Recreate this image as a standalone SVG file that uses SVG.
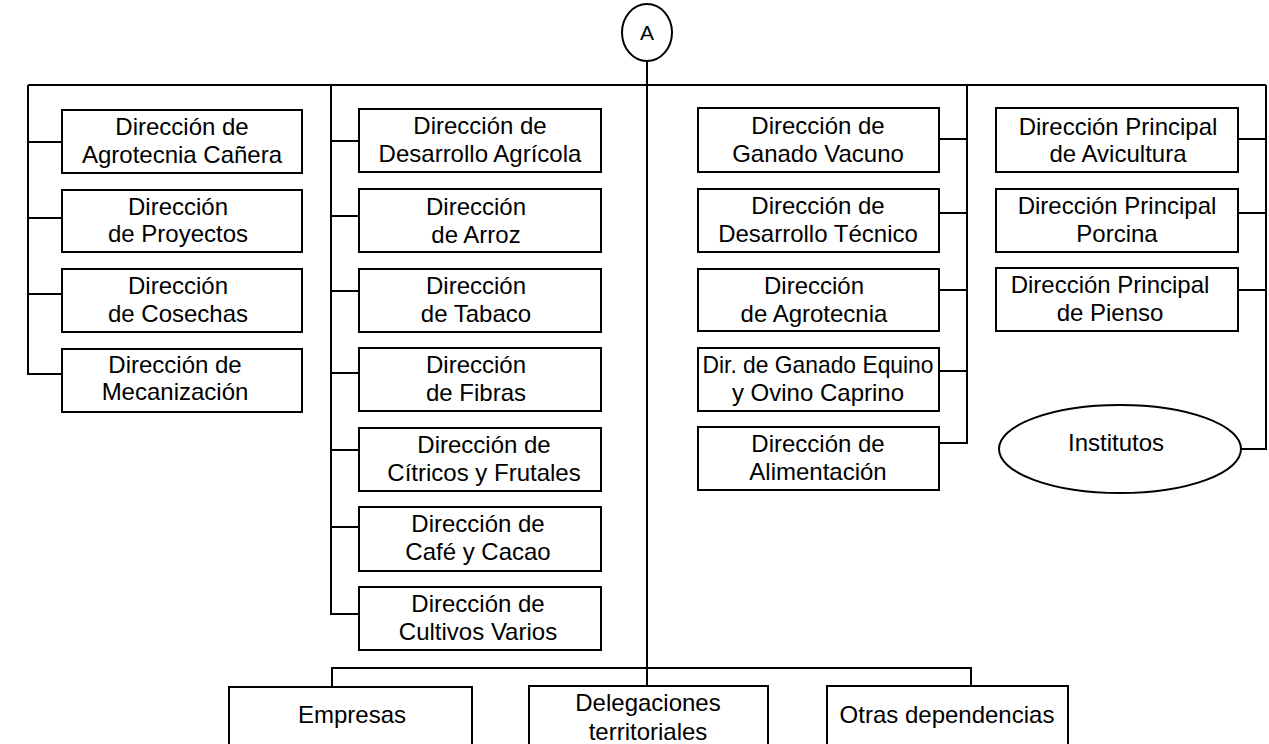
<svg xmlns="http://www.w3.org/2000/svg" width="1269" height="744" viewBox="0 0 1269 744">
<style>
.b{fill:#fff;stroke:#000;stroke-width:2}
.c{fill:none;stroke:#000;stroke-width:2}
.t{font-family:"Liberation Sans",Arial,sans-serif;font-size:24px;fill:#000;text-anchor:middle}
</style>
<rect width="1269" height="744" fill="#fff"/>
<g id="connectors" class="c">
<path d="M28 85H1266"/>
<path d="M647 61V686"/>
<path d="M28 85V374H62M28 142H62M28 218H62M28 294H62"/>
<path d="M331 85V614H359M331 141H359M331 216H359M331 291H359M331 373H359M331 450H359M331 527H359"/>
<path d="M967 85V443H939M967 139H939M967 213H939M967 290H939M967 371H939"/>
<path d="M1266 85V449H1241M1266 139H1238M1266 213H1238M1266 290H1238"/>
<path d="M332 687V668H971V686"/>
</g>
<g id="nA"><ellipse class="b" cx="647" cy="32.5" rx="25" ry="28.5"/><text class="t" x="647" y="40" style="font-size:21px">A</text></g>
<g id="n1"><rect class="b" x="62" y="110" width="240" height="63"/><text class="t" x="182" y="135">Dirección de</text><text class="t" x="182" y="163">Agrotecnia Cañera</text></g>
<g id="n2"><rect class="b" x="62" y="190" width="240" height="62"/><text class="t" x="178" y="215">Dirección</text><text class="t" x="178" y="242">de Proyectos</text></g>
<g id="n3"><rect class="b" x="62" y="269" width="240" height="63"/><text class="t" x="178" y="294">Dirección</text><text class="t" x="178" y="322">de Cosechas</text></g>
<g id="n4"><rect class="b" x="62" y="349" width="240" height="63"/><text class="t" x="175" y="373">Dirección de</text><text class="t" x="175" y="400">Mecanización</text></g>
<g id="n5"><rect class="b" x="359" y="109" width="242" height="63"/><text class="t" x="480" y="134">Dirección de</text><text class="t" x="480" y="162">Desarrollo Agrícola</text></g>
<g id="n6"><rect class="b" x="359" y="189" width="242" height="63"/><text class="t" x="476" y="215">Dirección</text><text class="t" x="476" y="243">de Arroz</text></g>
<g id="n7"><rect class="b" x="359" y="269" width="242" height="63"/><text class="t" x="476" y="294">Dirección</text><text class="t" x="476" y="322">de Tabaco</text></g>
<g id="n8"><rect class="b" x="359" y="348" width="242" height="63"/><text class="t" x="476" y="373">Dirección</text><text class="t" x="476" y="401">de Fibras</text></g>
<g id="n9"><rect class="b" x="359" y="428" width="242" height="63"/><text class="t" x="484" y="453">Dirección de</text><text class="t" x="484" y="481">Cítricos y Frutales</text></g>
<g id="n10"><rect class="b" x="359" y="507" width="242" height="64"/><text class="t" x="478" y="532">Dirección de</text><text class="t" x="478" y="560">Café y Cacao</text></g>
<g id="n11"><rect class="b" x="359" y="587" width="242" height="63"/><text class="t" x="478" y="612">Dirección de</text><text class="t" x="478" y="640">Cultivos Varios</text></g>
<g id="n12"><rect class="b" x="698" y="108" width="241" height="64"/><text class="t" x="818" y="134">Dirección de</text><text class="t" x="818" y="162">Ganado Vacuno</text></g>
<g id="n13"><rect class="b" x="698" y="189" width="241" height="63"/><text class="t" x="818" y="214">Dirección de</text><text class="t" x="818" y="242">Desarrollo Técnico</text></g>
<g id="n14"><rect class="b" x="698" y="269" width="241" height="62"/><text class="t" x="814" y="294">Dirección</text><text class="t" x="814" y="322">de Agrotecnia</text></g>
<g id="n15"><rect class="b" x="698" y="348" width="241" height="63"/><text class="t" x="818" y="373" textLength="231" lengthAdjust="spacingAndGlyphs">Dir. de Ganado Equino</text><text class="t" x="818" y="401">y Ovino Caprino</text></g>
<g id="n16"><rect class="b" x="698" y="427" width="241" height="63"/><text class="t" x="818" y="452">Dirección de</text><text class="t" x="818" y="480">Alimentación</text></g>
<g id="n17"><rect class="b" x="996" y="108" width="242" height="64"/><text class="t" x="1118" y="135">Dirección Principal</text><text class="t" x="1118" y="162">de Avicultura</text></g>
<g id="n18"><rect class="b" x="996" y="189" width="242" height="63"/><text class="t" x="1117" y="214">Dirección Principal</text><text class="t" x="1117" y="242">Porcina</text></g>
<g id="n19"><rect class="b" x="996" y="268" width="242" height="63"/><text class="t" x="1110" y="293">Dirección Principal</text><text class="t" x="1110" y="321">de Pienso</text></g>
<g id="n20"><ellipse class="b" cx="1120" cy="449" rx="121" ry="44"/><text class="t" x="1116" y="451">Institutos</text></g>
<g id="n21"><rect class="b" x="229" y="687" width="243" height="70"/><text class="t" x="352" y="723">Empresas</text></g>
<g id="n22"><rect class="b" x="529" y="686" width="239" height="70"/><text class="t" x="648" y="711">Delegaciones</text><text class="t" x="648" y="740">territoriales</text></g>
<g id="n23"><rect class="b" x="827" y="686" width="241" height="70"/><text class="t" x="947" y="723">Otras dependencias</text></g>
</svg>
